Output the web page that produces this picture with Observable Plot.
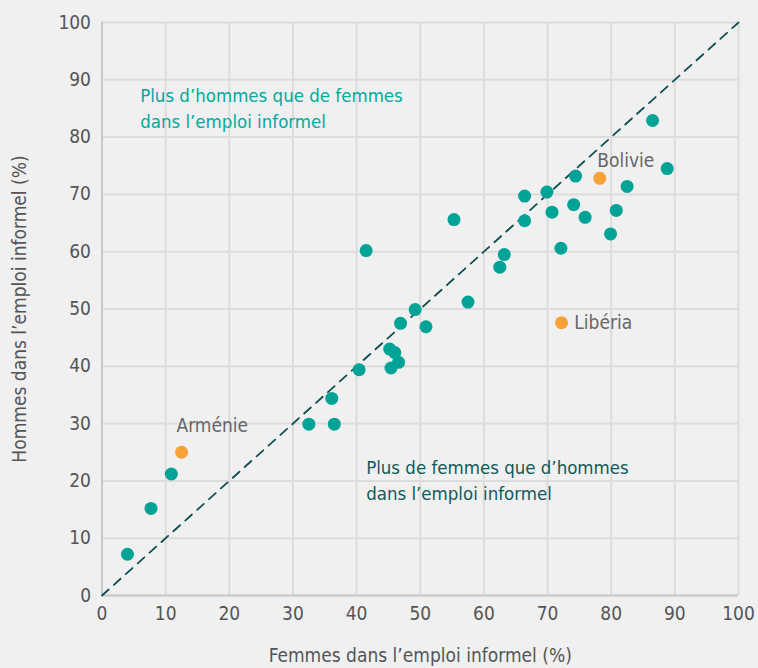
<!DOCTYPE html>
<html><head><meta charset="utf-8">
<script src="https://cdn.jsdelivr.net/npm/d3@7"></script>
<script src="https://cdn.jsdelivr.net/npm/@observablehq/plot@0.6"></script>
<style>
html,body{margin:0;padding:0;background:#f0f0f0;}
#chart{width:758px;height:668px;}
</style></head>
<body><div id="chart"></div>
<script>
// Women (x) and men (y) in informal employment (%), teal countries
const femmes = [4.0, 7.7, 10.9, 32.5, 36.5, 36.1, 40.4, 45.2, 46.0, 46.6, 45.4, 46.9, 49.2, 50.9,
  41.5, 55.3, 57.5, 62.5, 63.2, 66.4, 66.4, 69.9, 70.7, 72.1, 74.4, 74.1, 75.9, 82.5, 80.8, 79.9, 86.5, 88.8];
const hommes = [7.2, 15.2, 21.2, 29.9, 29.9, 34.4, 39.4, 43.0, 42.4, 40.7, 39.7, 47.5, 49.9, 46.9,
  60.2, 65.6, 51.2, 57.3, 59.5, 69.7, 65.4, 70.4, 66.9, 60.6, 73.2, 68.2, 66.0, 71.4, 67.2, 63.1, 82.9, 74.5];
// Highlighted countries
const paysNoms = ["Arménie", "Bolivie", "Libéria"];
const paysFemmes = [12.5, 78.2, 72.2];
const paysHommes = [25.0, 72.8, 47.6];
// Label positions (data units)
const labelX = [11.7, 77.8, 74.2];
const labelY = [29.6, 75.9, 47.6];
// Diagonal line
const diagX = [0, 100];
const diagY = [0, 100];
const ticks = [0, 10, 20, 30, 40, 50, 60, 70, 80, 90, 100];
const annotations = ["Plus d’hommes que de femmes\ndans l’emploi informel", "Plus de femmes que d’hommes\ndans l’emploi informel"];
const annX = [6, 41.5];
const annY = [85.3, 20.4];
const annColor = ["#00a99d", "#0e5a5c"];

const teal = "#00a396";
const orange = "#f7a136";
const font = "'Liberation Sans Narrow', 'DejaVu Sans Condensed', 'Roboto Condensed', sans-serif";

const pts = femmes.map((f, i) => ({f, h: hommes[i]}));
const pays = paysNoms.map((n, i) => ({n, f: paysFemmes[i], h: paysHommes[i], lx: labelX[i], ly: labelY[i]}));
const diag = diagX.map((x, i) => ({x, y: diagY[i]}));
const ann = annotations.map((t, i) => ({t, x: annX[i], y: annY[i], c: annColor[i]}));

const chart = Plot.plot({
  width: 758, height: 668,
  marginLeft: 101.5, marginRight: 20, marginTop: 22, marginBottom: 73,
  style: {background: "#f0f0f0", fontFamily: font, fontSize: "19px", color: "#555"},
  x: {domain: [0, 100], ticks},
  y: {domain: [0, 100], ticks},
  marks: [
    Plot.gridX(ticks, {stroke: "#dcdcdc", strokeOpacity: 1, strokeWidth: 2}),
    Plot.gridY(ticks, {stroke: "#dcdcdc", strokeOpacity: 1, strokeWidth: 2}),
    Plot.ruleX([0], {stroke: "#c8c8c8", strokeWidth: 2}),
    Plot.ruleY([0], {stroke: "#c8c8c8", strokeWidth: 2}),
    Plot.axisX(ticks, {tickSize: 0, tickPadding: 11, fontSize: 19, fill: "#555",
      label: "Femmes dans l’emploi informel (%)", labelAnchor: "center", labelOffset: 66, labelArrow: "none"}),
    Plot.axisY(ticks, {tickSize: 0, tickPadding: 11, fontSize: 19, fill: "#555",
      label: "Hommes dans l’emploi informel (%)", labelAnchor: "center", labelOffset: 90, labelArrow: "none"}),
    Plot.line(diag, {x: "x", y: "y", stroke: "#0d4f50", strokeWidth: 1.8, strokeDasharray: "9,7"}),
    Plot.dot(pts, {x: "f", y: "h", r: 6.5, fill: teal}),
    Plot.dot(pays, {x: "f", y: "h", r: 6.5, fill: orange}),
    Plot.text(pays, {x: "lx", y: "ly", text: "n", textAnchor: "start", fill: "#666", fontSize: 19}),
    Plot.text(ann, {x: "x", y: "y", text: "t", textAnchor: "start", fill: "c", fontSize: 18.5, lineHeight: 1.42})
  ]
});
document.getElementById("chart").appendChild(chart);
</script></body></html>
